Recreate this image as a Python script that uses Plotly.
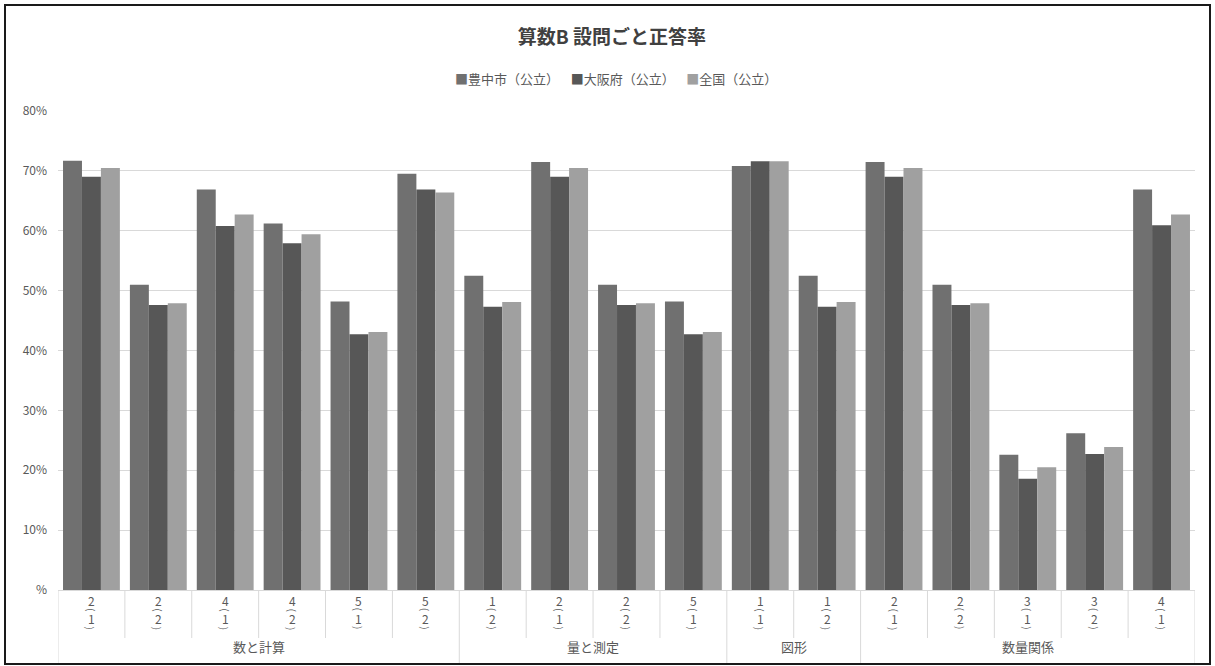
import plotly.graph_objects as go

# ---- data ----
groups = ["数と計算"] * 6 + ["量と測定"] * 4 + ["図形"] * 2 + ["数量関係"] * 5
major = ["2", "2", "4", "4", "5", "5", "1", "2", "2", "5", "1", "1", "2", "2", "3", "3", "4"]
minor = ["1", "2", "1", "2", "1", "2", "2", "1", "2", "1", "1", "2", "1", "2", "1", "2", "1"]

toyonaka = [71.7, 51.0, 66.9, 61.2, 48.2, 69.5, 52.5, 71.5, 51.0, 48.2, 70.8, 52.5, 71.5, 51.0, 22.6, 26.2, 66.9]
osaka = [69.0, 47.6, 60.8, 57.9, 42.7, 66.9, 47.3, 69.0, 47.6, 42.7, 71.6, 47.3, 69.0, 47.6, 18.6, 22.7, 60.9]
zenkoku = [70.5, 47.9, 62.7, 59.4, 43.1, 66.4, 48.1, 70.5, 47.9, 43.1, 71.6, 48.1, 70.5, 47.9, 20.5, 23.9, 62.7]

series_names = ["豊中市（公立）", "大阪府（公立）", "全国（公立）"]
series_colors = ["#707070", "#575757", "#a0a0a0"]

y_tickvals = [0, 10, 20, 30, 40, 50, 60, 70, 80]
y_ticktext = ["%", "10%", "20%", "30%", "40%", "50%", "60%", "70%", "80%"]

title_text = "算数B 設問ごと正答率"

# ---- layout geometry ----
W, H = 1215, 666
L, R, T, B = 58, 20, 111, 76
PW, PH = W - L - R, H - T - B
FONT = "Noto Sans CJK JP"


def py(p):  # pixel y -> paper y
    return (H - B - p) / PH


def px(p):  # pixel x -> paper x
    return (p - L) / PW


keys = [f"{g}|{a}({b})" for g, a, b in zip(groups, major, minor)]

fig = go.Figure()
for name, vals, col in zip(series_names, [toyonaka, osaka, zenkoku], series_colors):
    fig.add_trace(go.Bar(x=keys, y=vals, name=name, marker=dict(color=col, line=dict(width=0)),
                         showlegend=False))

annotations = []
shapes = []

# sub-category labels (digit, rotated "(", digit, rotated ")")
for i, (a, b) in enumerate(zip(major, minor)):
    for txt, yy, sz, ang in [(a, 600, 12, 0), ("(", 609.5, 10, 90), (b, 618, 12, 0), (")", 628, 10, 90)]:
        annotations.append(dict(x=i, xref="x", y=py(yy), yref="paper", text=txt, showarrow=False,
                                xanchor="center", yanchor="middle", textangle=ang,
                                font=dict(family=FONT, size=sz, color="#595959")))

# group labels and boundaries
bounds = [0]
for i in range(1, len(groups)):
    if groups[i] != groups[i - 1]:
        bounds.append(i)
bounds.append(len(groups))
for s, e in zip(bounds[:-1], bounds[1:]):
    annotations.append(dict(x=(s + e - 1) / 2, xref="x", y=py(646), yref="paper", text=groups[s],
                            showarrow=False, xanchor="center", yanchor="middle",
                            font=dict(family=FONT, size=13, color="#595959")))

for i in range(len(groups) + 1):
    bottom = 663 if i in bounds else 638
    shapes.append(dict(type="line", xref="x", x0=i - 0.5, x1=i - 0.5, yref="paper",
                       y0=0, y1=py(bottom), line=dict(color="#d9d9d9", width=1)))

# legend (as text)
leg = "&nbsp;&nbsp;&nbsp;&nbsp;".join(
    f'<span style="color:{c}">■</span>{n}' for n, c in zip(series_names, series_colors))
annotations.append(dict(x=616 / W, xref="paper", y=py(78), yref="paper", text=leg, showarrow=False,
                        xanchor="center", yanchor="middle",
                        font=dict(family=FONT, size=13, color="#595959")))
annotations[-1]["x"] = px(616)

# outer frame
shapes.append(dict(type="rect", xref="paper", yref="paper", x0=px(5), x1=px(1210), y0=py(664), y1=py(5),
                   line=dict(color="#1a1a1a", width=2), fillcolor="rgba(0,0,0,0)", layer="above"))

fig.update_layout(
    width=W, height=H,
    margin=dict(l=L, r=R, t=T, b=B, autoexpand=False),
    paper_bgcolor="white", plot_bgcolor="white",
    barmode="group", bargap=0.15, bargroupgap=0,
    title=dict(text=f"<b>{title_text}</b>", x=612 / W, xref="container", xanchor="center",
               y=1 - 37 / H, yref="container", yanchor="middle",
               font=dict(family=FONT, size=19, color="#404040")),
    xaxis=dict(type="category", showticklabels=False, showgrid=False, zeroline=False,
               showline=True, linecolor="#d9d9d9", linewidth=1, ticks="",
               range=[-0.5, len(keys) - 0.5], automargin=False),
    yaxis=dict(range=[0, 80], tickvals=y_tickvals, ticktext=y_ticktext, showgrid=True,
               gridcolor="#d9d9d9", gridwidth=1, zeroline=False, showline=False, ticks="",
               ticklabelstandoff=10, automargin=False,
               tickfont=dict(family=FONT, size=12, color="#595959")),
    annotations=annotations,
    shapes=shapes,
    showlegend=False,
)

fig.write_html("out.html")
